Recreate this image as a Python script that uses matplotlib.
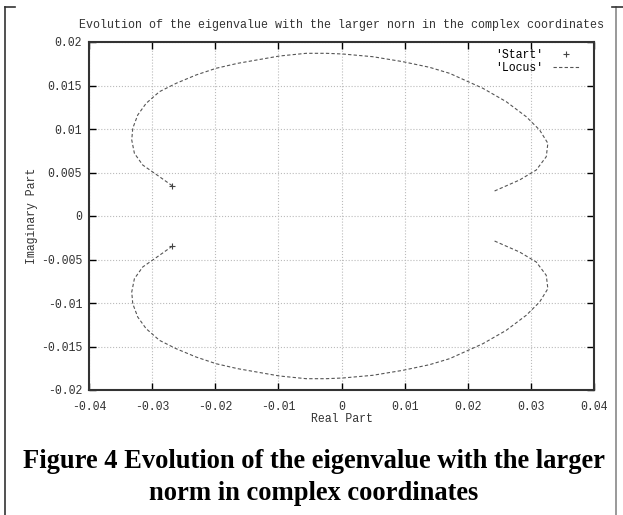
import matplotlib.pyplot as plt

# upper branch of the locus
upper_re = [-0.02683, -0.02884, -0.03149, -0.03281, -0.03323, -0.03307, -0.03228, -0.03095,
            -0.02884, -0.02620, -0.02303, -0.01986, -0.01643, -0.00983, -0.00559, -0.00243,
            0.00021, 0.00496, 0.00971, 0.01395, 0.01712, 0.02239, 0.02610, 0.02927,
            0.03138, 0.03269, 0.03244, 0.03086, 0.02821, 0.02398]
upper_im = [0.00348, 0.00452, 0.00586, 0.00721, 0.00874, 0.01008, 0.01161, 0.01295,
            0.01429, 0.01525, 0.01621, 0.01698, 0.01755, 0.01839, 0.01870, 0.01870,
            0.01862, 0.01831, 0.01774, 0.01709, 0.01640, 0.01468, 0.01314, 0.01141,
            0.00989, 0.00836, 0.00682, 0.00529, 0.00414, 0.00279]

# lower branch
lower_re = [-0.02683, -0.02884, -0.03149, -0.03281, -0.03323, -0.03307, -0.03228, -0.03095,
            -0.02884, -0.02620, -0.02303, -0.01986, -0.01643, -0.00983, -0.00559, -0.00243,
            0.00021, 0.00496, 0.00971, 0.01395, 0.01712, 0.02239, 0.02610, 0.02927,
            0.03138, 0.03269, 0.03244, 0.03086, 0.02821, 0.02398]
lower_im = [-0.00348, -0.00452, -0.00586, -0.00721, -0.00874, -0.01008, -0.01161, -0.01295,
            -0.01429, -0.01525, -0.01621, -0.01698, -0.01755, -0.01839, -0.01870, -0.01870,
            -0.01862, -0.01831, -0.01774, -0.01709, -0.01640, -0.01468, -0.01314, -0.01141,
            -0.00989, -0.00836, -0.00682, -0.00529, -0.00414, -0.00279]

start_re = [-0.02683, -0.02683]
start_im = [0.00348, -0.00348]

xticks = [-0.04, -0.03, -0.02, -0.01, 0, 0.01, 0.02, 0.03, 0.04]
xlabels = ['-0.04', '-0.03', '-0.02', '-0.01', '0', '0.01', '0.02', '0.03', '0.04']
yticks = [-0.02, -0.015, -0.01, -0.005, 0, 0.005, 0.01, 0.015, 0.02]
ylabels = ['-0.02', '-0.015', '-0.01', '-0.005', '0', '0.005', '0.01', '0.015', '0.02']

plt.rcParams['font.family'] = 'Liberation Mono'
plt.rcParams['font.size'] = 8.3

fig = plt.figure(figsize=(6.23, 5.15), dpi=100)
ax = fig.add_axes([89 / 623, 1 - 390 / 515, (594 - 89) / 623, (390 - 42) / 515])

ax.plot(start_re, start_im, '+', color='#444444', markersize=5, markeredgewidth=0.8,
        label="'Start'", zorder=3)
ax.plot(upper_re, upper_im, color='#555555', linestyle=(0, (3, 2)), linewidth=0.8,
        label="'Locus'")
ax.plot(lower_re, lower_im, color='#555555', linestyle=(0, (3, 2)), linewidth=0.8)

ax.set_xlim(-0.04, 0.04)
ax.set_ylim(-0.02, 0.02)
ax.set_xticks(xticks)
ax.set_xticklabels(xlabels, color='#333333')
ax.set_yticks(yticks)
ax.set_yticklabels(ylabels, color='#333333')
ax.tick_params(direction='in', top=True, right=True, length=5, width=1)
ax.tick_params(axis='x', pad=8)
ax.tick_params(axis='y', pad=5)
ax.grid(True, linestyle=':', color='#bbbbbb', linewidth=0.8)
for s in ax.spines.values():
    s.set_linewidth(1.5)
    s.set_color('#333333')

ax.set_xlabel('Real Part', color='#333333', labelpad=0)
ax.set_ylabel('Imaginary Part', color='#333333', labelpad=2)
ax.set_title('Evolution of the eigenvalue with the larger norn in the complex coordinates',
             color='#333333', fontsize=8.4, pad=10)

ax.legend(loc='upper right', bbox_to_anchor=(0.980, 0.994), borderaxespad=0,
          frameon=False, markerfirst=False, handlelength=2.3, labelspacing=0.1)

fig.text(314 / 623, 1 - 461 / 515, 'Figure 4 Evolution of the eigenvalue with the larger',
         family='Liberation Serif', weight='bold', fontsize=19.1, ha='center', va='center')
fig.text(314 / 623, 1 - 493 / 515, 'norm in complex coordinates',
         family='Liberation Serif', weight='bold', fontsize=19.1, ha='center', va='center')

# cell border lines around the figure
fig.add_artist(plt.Line2D([5 / 623, 5 / 623], [0, 1 - 7 / 515], color='#333333',
                          linewidth=1.2, transform=fig.transFigure))
fig.add_artist(plt.Line2D([5 / 623, 15 / 623], [1 - 7 / 515, 1 - 7 / 515], color='#333333',
                          linewidth=1.2, transform=fig.transFigure))
fig.add_artist(plt.Line2D([616 / 623, 616 / 623], [0, 1 - 7 / 515], color='#888888',
                          linewidth=1.2, transform=fig.transFigure))
fig.add_artist(plt.Line2D([612 / 623, 623 / 623], [1 - 7 / 515, 1 - 7 / 515], color='#333333',
                          linewidth=1.2, transform=fig.transFigure))

fig.savefig('out.png', dpi=100)
